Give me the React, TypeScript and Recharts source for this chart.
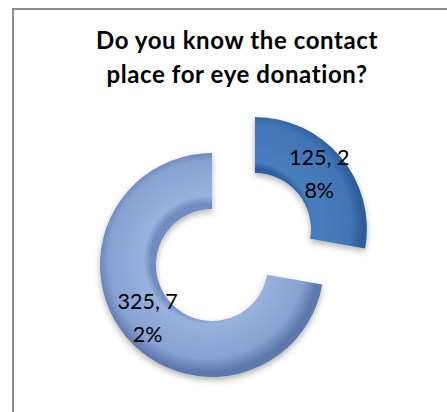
import { Pie, PieChart, Cell } from 'recharts'

const answers = ['Yes', 'No']
const counts = [125, 325]
const explodedAnswer = 'Yes'
const title = ['Do you know the contact', 'place for eye donation?']

const total = counts.reduce((s, v) => s + v, 0)
const data = answers.map((name, i) => ({
  name,
  value: counts[i],
  pct: Math.round((counts[i] / total) * 100),
}))

const W = 447
const H = 412
const CX = 207
const CY = 260
const INNER = 56
const OUTER = 112
const EXPLODE = 56
const RAD = Math.PI / 180

// explode offset along the bisector of the pulled-out slice
const explodedIdx = answers.indexOf(explodedAnswer)
const before = counts.slice(0, explodedIdx).reduce((s, v) => s + v, 0)
const midFromTop = ((before + counts[explodedIdx] / 2) / total) * 360
const EX = CX + EXPLODE * Math.sin(midFromTop * RAD)
const EY = CY - EXPLODE * Math.cos(midFromTop * RAD)

const fills = ['url(#gradDark)', 'url(#gradLight)']

function makeLabel(only: number) {
  return (props: any) => {
    const { cx, cy, midAngle, innerRadius, outerRadius, index } = props
    if (index !== only) return null
    const r = (innerRadius + outerRadius) / 2
    const x = cx + r * Math.cos(-midAngle * RAD)
    const y = cy + r * Math.sin(-midAngle * RAD)
    const d = data[index]
    const txt = `${d.value}, ${d.pct}%`
    const l1 = txt.slice(0, 6)
    const l2 = txt.slice(6)
    return (
      <text
        x={x}
        y={y}
        textAnchor="middle"
        fill="#000"
        style={{ fontFamily: 'Lato, "Open Sans", sans-serif', fontSize: 21.5 }}
      >
        <tspan x={x} dy={-10}>{l1}</tspan>
        <tspan x={x} dy={33}>{l2}</tspan>
      </text>
    )
  }
}

function SlicePie({ cx, cy, show }: { cx: number; cy: number; show: number }) {
  return (
    <Pie
      data={data}
      dataKey="value"
      cx={cx}
      cy={cy}
      innerRadius={INNER}
      outerRadius={OUTER}
      startAngle={90}
      endAngle={-270}
      stroke="none"
      isAnimationActive={false}
      labelLine={false}
      label={makeLabel(show)}
    >
      {data.map((entry, i) => (
        <Cell
          key={`cell-${entry.name}`}
          fill={i === show ? fills[i] : 'none'}
          filter={i === show ? 'url(#shadow)' : undefined}
        />
      ))}
    </Pie>
  )
}

export default function App() {
  return (
    <div
      style={{
        position: 'fixed',
        left: 0,
        top: 0,
        width: W,
        height: H,
        background: '#fff',
        overflow: 'hidden',
      }}
    >
      <div style={{ position: 'absolute', left: 0, top: 0 }}>
        <PieChart width={W} height={H} accessibilityLayer={false}>
          <defs>
            <radialGradient id="gradDark" gradientUnits="userSpaceOnUse" cx={EX} cy={EY} r={OUTER}>
              <stop offset={0.5} stopColor="#2f5d9c" />
              <stop offset={0.56} stopColor="#4a7dbd" />
              <stop offset={0.9} stopColor="#4275b6" />
              <stop offset={1} stopColor="#2f5d9c" />
            </radialGradient>
            <radialGradient id="gradLight" gradientUnits="userSpaceOnUse" cx={CX} cy={CY} r={OUTER}>
              <stop offset={0.5} stopColor="#6f8cc0" />
              <stop offset={0.57} stopColor="#98b2de" />
              <stop offset={0.88} stopColor="#87a1d2" />
              <stop offset={1} stopColor="#5d78ab" />
            </radialGradient>
            <filter id="shadow" x="-20%" y="-20%" width="140%" height="140%">
              <feDropShadow dx={0} dy={3} stdDeviation={3} floodColor="#000" floodOpacity={0.3} />
            </filter>
          </defs>
          <SlicePie cx={CX} cy={CY} show={1} />
          <SlicePie cx={EX} cy={EY} show={0} />
        </PieChart>
      </div>
      <div
        style={{
          position: 'absolute',
          left: 27,
          top: 23,
          width: 420,
          textAlign: 'center',
          fontFamily: 'Lato, "Open Sans", sans-serif',
          fontWeight: 700,
          fontSize: 24,
          letterSpacing: 0.6,
          lineHeight: '34px',
          color: '#000',
        }}
      >
        {title.map((t) => (
          <div key={t}>{t}</div>
        ))}
      </div>
      {/* chart area frame: only top and left edges fall inside the crop */}
      <div style={{ position: 'absolute', left: 12, top: 8, width: W, height: 2, background: '#8c8c8c' }} />
      <div style={{ position: 'absolute', left: 12, top: 8, width: 2, height: H, background: '#8c8c8c' }} />
    </div>
  )
}
